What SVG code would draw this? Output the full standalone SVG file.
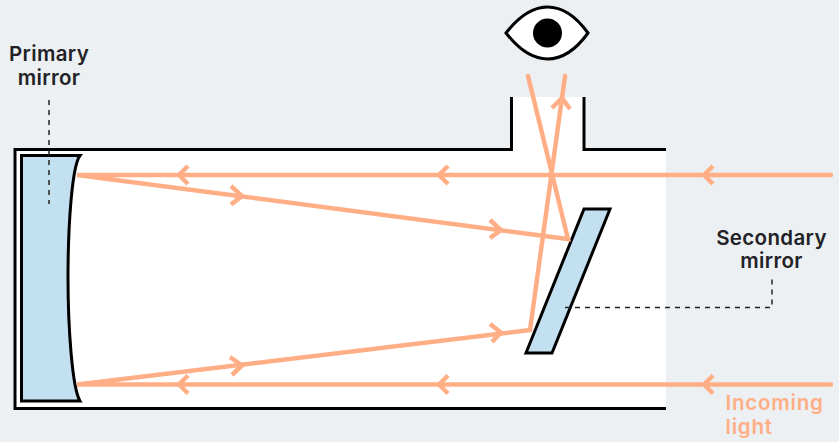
<svg xmlns="http://www.w3.org/2000/svg" width="839" height="442" viewBox="0 0 839 442">
<style>
.ray{fill:none;stroke:#FFAE85;stroke-width:4.5;stroke-linecap:round;stroke-linejoin:miter}
.chev{fill:none;stroke:#FFAE85;stroke-width:4.5;stroke-linecap:butt;stroke-linejoin:miter}
.ol{fill:none;stroke:#000;stroke-width:3}
.mir{fill:#C3E0F1;stroke:#000;stroke-width:3}
.dash{fill:none;stroke:#222;stroke-width:1.5;stroke-dasharray:5 5}
text{font-family:"Inter","Liberation Sans",sans-serif;font-weight:600;font-size:20.5px;letter-spacing:.35px;fill:#222226}
</style>
<rect width="839" height="442" fill="#ECF0F3"/>
<g id="tube">
<path d="M15 150H511.5V97H584V150H666V408.500H15Z" fill="#fff"/>
<path class="ol" d="M666 408.500H15V149.500H511.500V97M584 97V149.500H666"/>
</g>
<g id="primary-mirror">
<path class="mir" d="M21.500 155.500H80C72 166 68 225 68 278C68 325 72 388 80 401H21.500Z"/>
</g>
<g id="secondary-mirror">
<path class="mir" d="M584 209H610L552 353H526Z"/>
</g>
<g id="eye">
<path d="M506 33C520 15 533 7 547.500 7C562 7 575 15 588 33C575 51 562 59 547.500 59C533 59 520 51 506 33Z" fill="#fff" stroke="#000" stroke-width="3"/>
<circle cx="547.500" cy="33" r="14.500" fill="#000"/>
</g>
<g id="connectors">
<path class="ray" d="M831 175H77L568 239L528 76"/>
<path class="ray" d="M831 384.500H77L530 330L565 76"/>
<path class="chev" d="M188 166L179 175L188 184M448 166L439 175L448 184M713 166L704 175L713 184"/>
<path class="chev" d="M188 375.500L179 384.500L188 393.500M448 375.500L439 384.500L448 393.500M713 375.500L704 384.500L713 393.500"/>
<path class="chev" d="M231 186L242 196L231 204.500M490 220L501 230L490 238"/>
<path class="chev" d="M230 357L242 365.500L232 375M490 324L501 332.500L492 342"/>
<path class="chev" d="M552 108L562 98L570 109"/>
<path class="dash" d="M49 100V204"/>
<path class="dash" d="M772 279.500V307.500H561"/>
</g>
<g id="label-primary"><text x="49" y="61" text-anchor="middle">Primary</text><text x="49" y="85" text-anchor="middle">mirror</text></g>
<g id="label-secondary"><text x="771.500" y="245" text-anchor="middle">Secondary</text><text x="771.500" y="268" text-anchor="middle">mirror</text></g>
<g id="label-incoming"><text x="725.500" y="410" style="fill:#FFAE85;letter-spacing:.8px">Incoming</text><text x="725.500" y="434" style="fill:#FFAE85;letter-spacing:.8px">light</text></g>
</svg>
